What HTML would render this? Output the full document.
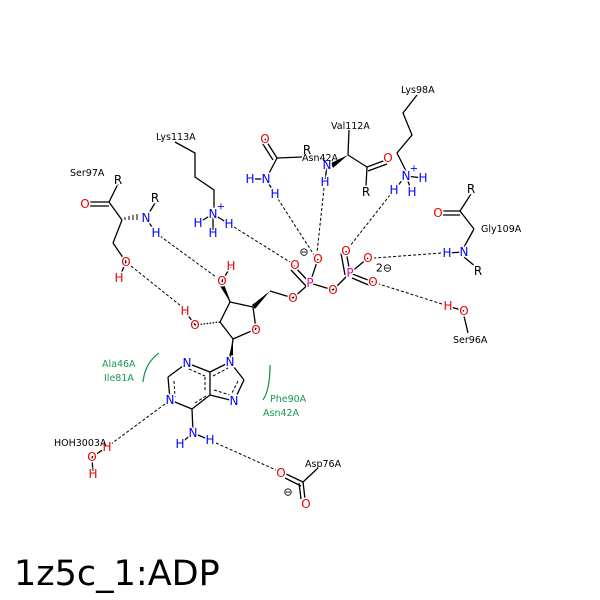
<!DOCTYPE html>
<html><head><meta charset="utf-8"><style>
html,body{margin:0;padding:0;background:#fff;}
svg{display:block;}
text{font-family:"DejaVu Sans","Liberation Sans",sans-serif;}
.a{font-size:12px;text-anchor:middle;dominant-baseline:central;paint-order:stroke;stroke:#fff;stroke-width:3px;}
.l{font-size:9.5px;fill:#000;}
.g{font-size:9.5px;fill:#1a9850;}
.O{fill:#e00;} .N{fill:#00f;} .P{fill:#d0108a;} .K{fill:#000;}
</style></head><body>
<svg width="600" height="600" viewBox="0 0 600 600" xmlns="http://www.w3.org/2000/svg">
<rect width="600" height="600" fill="#fff"/>
<!-- hbonds -->
<g stroke="#000" stroke-width="1" stroke-dasharray="3,2" fill="none">
<line x1="160" y1="236" x2="216" y2="277"/>
<line x1="131" y1="266" x2="181" y2="306"/>
<line x1="234" y1="227" x2="290" y2="262"/>
<line x1="278" y1="199" x2="314" y2="255"/>
<line x1="324" y1="188" x2="317" y2="253"/>
<line x1="390" y1="195" x2="350" y2="246"/>
<line x1="441" y1="253" x2="374" y2="258"/>
<line x1="442" y1="304" x2="379" y2="284"/>
<line x1="165" y1="404" x2="111" y2="444"/>
<line x1="216" y1="443" x2="276" y2="470"/>
</g>
<!-- bonds -->
<g stroke="#000" stroke-width="1.3" fill="none">
<line x1="256" y1="329" x2="253" y2="307"/>
<line x1="253" y1="307" x2="230" y2="302"/>
<line x1="230" y1="302" x2="220" y2="322"/>
<line x1="220" y1="322" x2="233" y2="339"/>
<line x1="233" y1="339" x2="256" y2="329"/>
<line x1="230" y1="302" x2="222" y2="281"/>
<line x1="220" y1="322" x2="195" y2="325" stroke-dasharray="1.5,1.5"/>
<line x1="270" y1="291" x2="293" y2="298"/>
<line x1="293" y1="298" x2="310" y2="283"/>
<line x1="310" y1="283" x2="293" y2="265"/>
<line x1="306" y1="286" x2="291" y2="270"/>
<line x1="310" y1="283" x2="318" y2="259"/>
<line x1="310" y1="283" x2="333" y2="290"/>
<line x1="333" y1="290" x2="350" y2="273"/>
<line x1="350" y1="273" x2="346" y2="251"/>
<line x1="345" y1="275" x2="341" y2="253"/>
<line x1="350" y1="273" x2="368" y2="258"/>
<line x1="350" y1="273" x2="373" y2="282"/>
<line x1="352" y1="278" x2="371" y2="286"/>
<line x1="233" y1="339" x2="230" y2="362"/>
<!-- adenine -->
<line x1="230" y1="362" x2="244" y2="380"/>
<line x1="244" y1="380" x2="234" y2="401"/>
<line x1="234" y1="401" x2="210" y2="395"/>
<line x1="210" y1="395" x2="210" y2="372"/>
<line x1="210" y1="372" x2="230" y2="362"/>
<line x1="210" y1="372" x2="187" y2="363"/>
<line x1="187" y1="363" x2="168" y2="377"/>
<line x1="168" y1="377" x2="170" y2="400"/>
<line x1="170" y1="400" x2="192" y2="409"/>
<line x1="192" y1="409" x2="210" y2="395"/>
<line x1="192" y1="409" x2="193" y2="433"/>
<g stroke-dasharray="3,2" stroke-width="1">
<line x1="174" y1="381" x2="175" y2="397"/>
<line x1="189" y1="369" x2="205" y2="376"/>
<line x1="205" y1="377" x2="205" y2="392"/>
<line x1="195" y1="403" x2="206" y2="396"/>
<line x1="213" y1="376" x2="228" y2="368"/>
<line x1="238" y1="381" x2="231" y2="395"/>
<line x1="214" y1="390" x2="230" y2="395"/>
</g>
<!-- Ser97 -->
<line x1="118" y1="184" x2="109" y2="202"/>
<line x1="109" y1="202" x2="90" y2="202"/>
<line x1="109" y1="206" x2="90" y2="206"/>
<line x1="109" y1="202" x2="122" y2="220"/>
<line x1="122" y1="220" x2="113" y2="243"/>
<line x1="113" y1="243" x2="126" y2="262"/>
<line x1="146" y1="218" x2="155" y2="203"/>
<line x1="146" y1="218" x2="156" y2="233"/>
<line x1="126" y1="262" x2="119" y2="278"/>
<line x1="222" y1="281" x2="231" y2="266"/>
<line x1="195" y1="325" x2="185" y2="311"/>
<!-- Lys113 -->
<polyline points="175,142 195,153 195,177 214,190 214,208"/>
<line x1="213" y1="214" x2="198" y2="223"/>
<line x1="213" y1="214" x2="213" y2="233"/>
<line x1="213" y1="214" x2="229" y2="224"/>
<!-- Asn side -->
<line x1="277" y1="158" x2="265" y2="139"/>
<line x1="273" y1="160" x2="261" y2="141"/>
<line x1="277" y1="158" x2="302" y2="157"/>
<line x1="277" y1="158" x2="266" y2="179"/>
<line x1="250" y1="179" x2="266" y2="179"/>
<line x1="266" y1="179" x2="275" y2="194"/>
<!-- Val112 -->
<line x1="349" y1="130" x2="348" y2="155"/>
<line x1="348" y1="155" x2="367" y2="167"/>
<line x1="367" y1="167" x2="386" y2="160"/>
<line x1="368" y1="171" x2="387" y2="164"/>
<line x1="367" y1="167" x2="366" y2="186"/>
<line x1="327" y1="165" x2="325" y2="182"/>
<!-- Lys98 -->
<polyline points="417,95 403,113 412,135 397,153 406,171"/>
<line x1="406" y1="176" x2="423" y2="178"/>
<line x1="406" y1="176" x2="412" y2="192"/>
<line x1="406" y1="176" x2="394" y2="190"/>
<!-- N6 -->
<line x1="193" y1="433" x2="180" y2="444"/>
<line x1="193" y1="433" x2="210" y2="440"/>
<!-- Gly109 -->
<line x1="471" y1="194" x2="460" y2="211"/>
<line x1="460" y1="211" x2="442" y2="211"/>
<line x1="460" y1="215" x2="442" y2="215"/>
<line x1="460" y1="211" x2="474" y2="229"/>
<line x1="474" y1="229" x2="464" y2="247"/>
<line x1="464" y1="257" x2="476" y2="267"/>
<line x1="447" y1="253" x2="464" y2="252"/>
<!-- Ser96 -->
<line x1="464" y1="316" x2="468" y2="333"/>
<line x1="448" y1="306" x2="464" y2="311"/>
<!-- HOH -->
<line x1="92" y1="457" x2="93" y2="474"/>
<line x1="92" y1="457" x2="107" y2="447"/>
<!-- Asp76 -->
<line x1="303" y1="482" x2="318" y2="468"/>
<line x1="303" y1="482" x2="286" y2="474"/>
<line x1="301" y1="486" x2="285" y2="478"/>
<line x1="303" y1="482" x2="305" y2="499"/>
<line x1="299" y1="483" x2="301" y2="499"/>
</g>
<!-- wedges -->
<polygon points="270,291 252,305 255,309" fill="#000"/>
<polygon points="230,302 220,286 224,285" fill="#000"/>
<polygon points="233,339 229,357 233,357" fill="#000"/>
<polygon points="348,155 331,163 333,168" fill="#000"/>
<g stroke="#000" stroke-width="1">
<line x1="125" y1="220" x2="125" y2="217"/><line x1="129" y1="220" x2="129" y2="216"/><line x1="133" y1="220" x2="133" y2="215"/><line x1="137" y1="220" x2="137" y2="214"/>
</g>
<!-- hydrophobic arcs -->
<path d="M159,353 Q145,363 143,382" stroke="#1a9850" stroke-width="1.3" fill="none"/>
<path d="M270,365 Q270,390 263,400" stroke="#1a9850" stroke-width="1.3" fill="none"/>
<!-- atoms -->
<text class="a O" x="256" y="330">O</text>
<text class="a O" x="222" y="281">O</text>
<text class="a O" x="231" y="266">H</text>
<text class="a O" x="195" y="325">O</text>
<text class="a O" x="185" y="311">H</text>
<text class="a O" x="293" y="298">O</text>
<text class="a P" x="310" y="283">P</text>
<text class="a O" x="295" y="265">O</text>
<text class="a O" x="318" y="259">O</text>
<text class="a K" x="304" y="252" style="font-size:11px">⊖</text>
<text class="a O" x="333" y="290">O</text>
<text class="a P" x="350" y="273">P</text>
<text class="a O" x="346" y="251">O</text>
<text class="a O" x="368" y="258">O</text>
<text class="a O" x="373" y="282">O</text>
<text class="a K" x="384" y="268" style="font-size:11px">2⊖</text>
<text class="a N" x="230" y="362">N</text>
<text class="a N" x="234" y="401">N</text>
<text class="a N" x="187" y="363">N</text>
<text class="a N" x="170" y="400">N</text>
<text class="a N" x="193" y="433">N</text>
<text class="a N" x="180" y="444">H</text>
<text class="a N" x="210" y="440">H</text>
<text class="a K" x="118" y="180">R</text>
<text class="a O" x="85" y="204">O</text>
<text class="a N" x="146" y="218">N</text>
<text class="a K" x="155" y="198">R</text>
<text class="a N" x="156" y="233">H</text>
<text class="a O" x="126" y="262">O</text>
<text class="a O" x="119" y="278">H</text>
<text class="a N" x="213" y="214">N</text>
<text class="a N" x="221" y="207" style="font-size:10px">+</text>
<text class="a N" x="198" y="223">H</text>
<text class="a N" x="213" y="233">H</text>
<text class="a N" x="229" y="224">H</text>
<text class="a O" x="265" y="139">O</text>
<text class="a N" x="266" y="179">N</text>
<text class="a N" x="250" y="179">H</text>
<text class="a N" x="275" y="194">H</text>
<text class="a K" x="307" y="150">R</text>
<text class="a N" x="327" y="165">N</text>
<text class="a N" x="325" y="182">H</text>
<text class="a O" x="388" y="158">O</text>
<text class="a K" x="366" y="192">R</text>
<text class="a N" x="406" y="176">N</text>
<text class="a N" x="414" y="169" style="font-size:10px">+</text>
<text class="a N" x="423" y="178">H</text>
<text class="a N" x="412" y="192">H</text>
<text class="a N" x="394" y="190">H</text>
<text class="a K" x="471" y="189">R</text>
<text class="a O" x="438" y="213">O</text>
<text class="a N" x="464" y="252">N</text>
<text class="a N" x="447" y="253">H</text>
<text class="a K" x="478" y="271">R</text>
<text class="a O" x="448" y="306">H</text>
<text class="a O" x="464" y="311">O</text>
<text class="a O" x="107" y="447">H</text>
<text class="a O" x="92" y="457">O</text>
<text class="a O" x="93" y="474">H</text>
<text class="a O" x="281" y="473">O</text>
<text class="a O" x="306" y="504">O</text>
<text class="a K" x="288" y="492" style="font-size:11px">⊖</text>
<!-- labels -->
<text class="l" x="70" y="176">Ser97A</text>
<text class="l" x="156" y="140">Lys113A</text>
<text class="l" x="302" y="161">Asn42A</text>
<text class="l" x="331" y="129">Val112A</text>
<text class="l" x="401" y="93">Lys98A</text>
<text class="l" x="481" y="232">Gly109A</text>
<text class="l" x="453" y="343">Ser96A</text>
<text class="l" x="54" y="446">HOH3003A</text>
<text class="l" x="305" y="467">Asp76A</text>
<text class="g" x="102" y="367">Ala46A</text>
<text class="g" x="104" y="381">Ile81A</text>
<text class="g" x="270" y="402">Phe90A</text>
<text class="g" x="263" y="416">Asn42A</text>
<text x="14" y="585" style="font-size:35px;fill:#000">1z5c_1:ADP</text>
</svg>
</body></html>
